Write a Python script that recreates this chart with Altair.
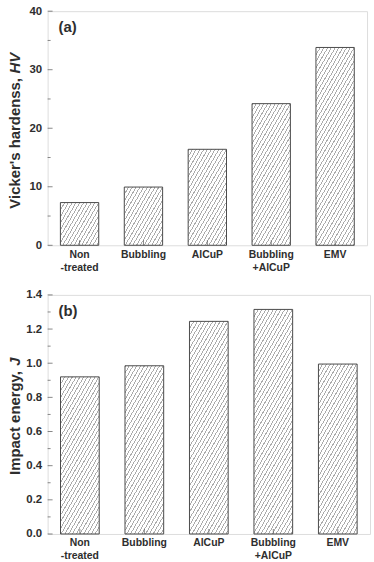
import math
import altair as alt
import pandas as pd

cats = ["Non\n-treated", "Bubbling", "AlCuP", "Bubbling\n+AlCuP", "EMV"]
hardness = [7.3, 9.95, 16.4, 24.2, 33.8]
impact = [0.92, 0.985, 1.245, 1.315, 0.995]
hv_major = [0, 10, 20, 30, 40]
hv_minor = [5, 15, 25, 35]
ie_major = [0.0, 0.2, 0.4, 0.6, 0.8, 1.0, 1.2, 1.4]
ie_minor = [0.1, 0.3, 0.5, 0.7, 0.9, 1.1, 1.3]

FONT = "Liberation Sans"
TEXT = "#2e2e2e"
FRAME = "#555555"
TITLE_FS = 15


def hatch(w, h, theta=60.0, period=3.3, lw=0.9, line="#acacac", bg="#ffffff"):
    s, c = math.sin(math.radians(theta)), math.cos(math.radians(theta))
    a0, b0 = w * s, h * c
    k = (a0 + b0) / (a0 * a0 + b0 * b0)
    L = w * s + h * c
    stops = []
    i = 0
    while True:
        o0 = i * period / L
        if o0 >= 1:
            break
        o1 = min((i * period + lw) / L, 1.0)
        o2 = min((i + 1) * period / L, 1.0)
        stops += [
            alt.GradientStop(offset=o0, color=line),
            alt.GradientStop(offset=o1, color=line),
            alt.GradientStop(offset=o1, color=bg),
            alt.GradientStop(offset=o2, color=bg),
        ]
        i += 1
    return alt.Gradient(gradient="linear", stops=stops, x1=0, y1=0, x2=k * a0, y2=k * b0)


def panel(values, ymax, major, minor, W, H, title_plain, title_ital, plain_em, center_y, label, fmt):
    step = W / 5.0
    bw = step * 0.6
    xscale = alt.Scale(domain=cats, paddingInner=0.4, paddingOuter=0.2)
    yscale = alt.Scale(domain=[0, ymax], nice=False, zero=True)
    xaxis = alt.Axis(
        title=None, labelAngle=0, labelExpr="split(datum.label, '\\n')",
        labelFont=FONT, labelFontSize=10.5, labelFontWeight="bold", labelColor=TEXT,
        labelPadding=4, labelLineHeight=13, ticks=False, domain=False, grid=False,
    )
    yaxis = alt.Axis(
        values=major, format=fmt, labelFont=FONT, labelFontSize=11.5,
        labelFontWeight="bold", labelColor=TEXT, labelPadding=6, ticks=False,
        domain=False, grid=False, title=title_plain + title_ital, titleFont=FONT,
        titleFontSize=TITLE_FS, titleFontWeight="bold", titleColor=TEXT,
        titleOpacity=0, titlePadding=5,
    )
    X = lambda: alt.X("cat:N", sort=cats, scale=xscale, axis=xaxis)
    Y = lambda: alt.Y("val:Q", scale=yscale, axis=yaxis)
    layers = []
    for cat, v in zip(cats, values):
        h = v / ymax * H
        df = pd.DataFrame({"cat": [cat], "val": [v]})
        layers.append(
            alt.Chart(df).mark_bar(fill=hatch(bw, h), stroke="#4a4a4a", strokeWidth=1).encode(
                x=X(), y=Y()
            )
        )
    ymaj = alt.Chart(pd.DataFrame({"val": major})).mark_tick(
        orient="horizontal", size=5, thickness=1, color=FRAME
    ).encode(y=Y(), x=alt.value(2.5))
    ymin = alt.Chart(pd.DataFrame({"val": minor})).mark_tick(
        orient="horizontal", size=3, thickness=1, color=FRAME
    ).encode(y=Y(), x=alt.value(1.5))
    xt = alt.Chart(pd.DataFrame({"cat": cats})).mark_tick(
        orient="vertical", size=5, thickness=1, color=FRAME
    ).encode(x=X(), y=alt.value(H - 2.5))
    lab = alt.Chart(pd.DataFrame({"t": [label]})).mark_text(
        align="left", baseline="middle", font=FONT, fontSize=15, fontWeight="bold", color=TEXT
    ).encode(text="t:N", x=alt.value(11), y=alt.value(16))

    # rotated y title: plain part + italic symbol
    plain_w = plain_em * TITLE_FS
    ital_w = 0.6 * TITLE_FS
    start_y = center_y + (plain_w + ital_w) / 2.0
    t1 = alt.Chart(pd.DataFrame({"t": [title_plain]})).mark_text(
        align="left", baseline="alphabetic", angle=270, font=FONT, fontSize=TITLE_FS,
        fontWeight="bold", color=TEXT
    ).encode(text="t:N", x=alt.value(-27.5), y=alt.value(start_y))
    t2 = alt.Chart(pd.DataFrame({"t": [title_ital]})).mark_text(
        align="left", baseline="alphabetic", angle=270, font=FONT, fontSize=TITLE_FS,
        fontWeight="bold", fontStyle="italic", color=TEXT
    ).encode(text="t:N", x=alt.value(-27.5), y=alt.value(start_y - plain_w))
    return alt.layer(*layers, ymaj, ymin, xt, lab, t1, t2).properties(width=W, height=H)


top = panel(hardness, 40, hv_major, hv_minor, 322, 236,
            "Vicker's hardenss, ", "HV", 9.076, 126.5, "(a)", "d")
bottom = panel(impact, 1.4, ie_major, ie_minor, 325, 241,
               "Impact energy, ", "J", 7.336, 122.0, "(b)", ".1f")

chart = (
    alt.vconcat(top, bottom, spacing=15)
    .properties(padding={"left": 5, "top": 2, "right": 3, "bottom": 0})
    .configure_view(stroke=FRAME, strokeWidth=1)
    .configure(background="white")
)

chart.save("out.html", embed_options={"renderer": "svg", "actions": False})
